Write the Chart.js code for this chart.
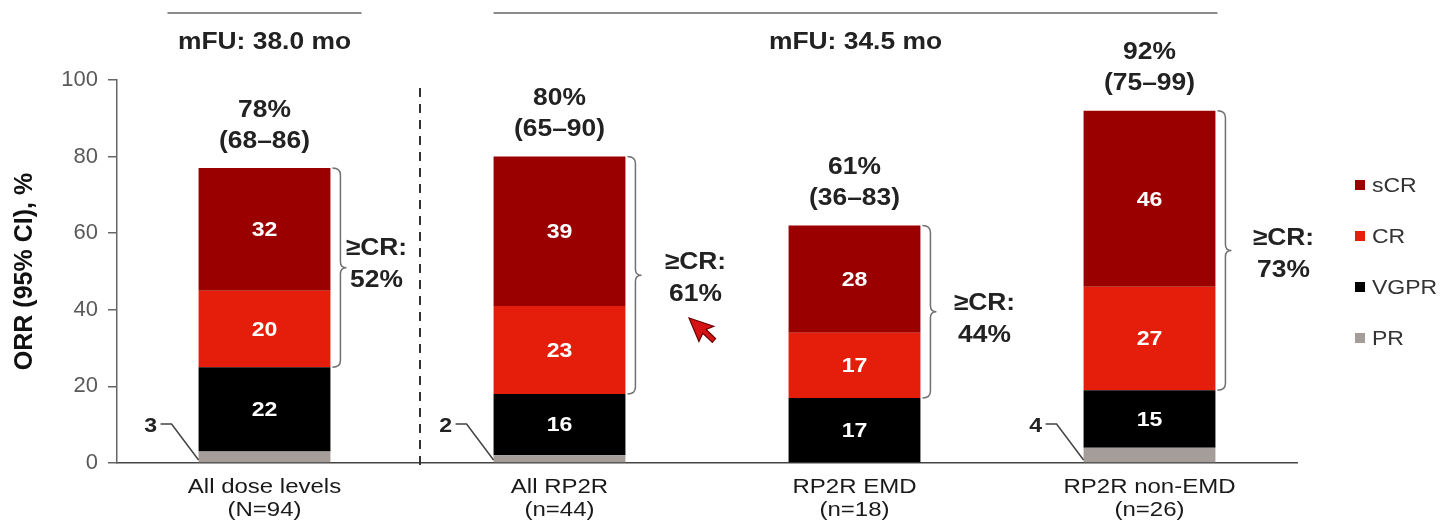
<!DOCTYPE html>
<html>
<head>
<meta charset="utf-8">
<script src="https://cdn.jsdelivr.net/npm/chart.js@4/dist/chart.umd.min.js"></script>
<style>
    html, body { margin: 0; padding: 0; background: #fff; }
    #wrap { position: relative; width: 1440px; height: 523px; }
</style>
</head>
<body>
<div id="wrap"><canvas id="orr-canvas"></canvas></div>
<script>
var categories = [
    ['All dose levels', '(N=94)'],
    ['All RP2R', '(n=44)'],
    ['RP2R EMD', '(n=18)'],
    ['RP2R non-EMD', '(n=26)']
];
var prValues = [3, 2, 0, 4];
var vgprValues = [22, 16, 17, 15];
var crValues = [20, 23, 17, 27];
var scrValues = [32, 39, 28, 46];
var orrLabels = ['78%', '80%', '61%', '92%'];
var ciLabels = ['(68\u201386)', '(65\u201390)', '(36\u201383)', '(75\u201399)'];
var geCrLabels = ['52%', '61%', '44%', '73%'];
var followUpLabels = ['mFU: 38.0 mo', 'mFU: 34.5 mo'];
var yTicks = [0, 20, 40, 60, 80, 100];

var FONT = 'Arial, "Liberation Sans", sans-serif';
var colors = {
    scr: '#9b0000',
    cr: '#e41e0a',
    vgpr: '#000000',
    pr: '#a59d99',
    text: '#222222',
    axis: '#666666'
};

// the source slide's lettering is a bit wider than Liberation Sans
function wideText(ctx, text, x, y, sx) {
    ctx.save();
    ctx.translate(x, y);
    ctx.scale(sx, 1);
    ctx.fillText(text, 0, 0);
    ctx.restore();
}

function drawBrace(ctx, x, y1, y2) {
    var mid = (y1 + y2) / 2;
    var v = x + 8;
    ctx.beginPath();
    ctx.moveTo(x, y1);
    ctx.quadraticCurveTo(v, y1, v, y1 + 7);
    ctx.lineTo(v, mid - 6);
    ctx.quadraticCurveTo(v, mid, v + 6, mid);
    ctx.quadraticCurveTo(v, mid, v, mid + 6);
    ctx.lineTo(v, y2 - 7);
    ctx.quadraticCurveTo(v, y2, x, y2);
    ctx.stroke();
}

function drawCursor(ctx, x, y) {
    ctx.save();
    ctx.translate(x, y);
    ctx.rotate(-0.4);
    ctx.scale(1.5, 1.5);
    ctx.beginPath();
    ctx.moveTo(0, 0);
    ctx.lineTo(0, 17);
    ctx.lineTo(4.5, 13);
    ctx.lineTo(8, 21);
    ctx.lineTo(11, 19.5);
    ctx.lineTo(7.5, 11.5);
    ctx.lineTo(13, 11.5);
    ctx.closePath();
    ctx.fillStyle = '#d41414';
    ctx.fill();
    ctx.strokeStyle = '#6a0000';
    ctx.lineWidth = 0.8;
    ctx.stroke();
    ctx.restore();
}

var annotationPlugin = {
    id: 'orrAnnotations',
    afterDatasetsDraw: function (chart) {
        var ctx = chart.ctx;
        var x = chart.scales.x;
        var y = chart.scales.y;
        var metaPR = chart.getDatasetMeta(0);
        var metaTop = chart.getDatasetMeta(3);
        var SX = 1.1;

        ctx.save();
        ctx.textAlign = 'center';
        ctx.textBaseline = 'middle';

        // values inside the segments
        ctx.fillStyle = '#ffffff';
        ctx.font = 'bold 21px ' + FONT;
        [1, 2, 3].forEach(function (di) {
            var meta = chart.getDatasetMeta(di);
            var vals = chart.data.datasets[di].data;
            meta.data.forEach(function (bar, i) {
                if (!vals[i]) return;
                wideText(ctx, String(vals[i]), bar.x, (bar.y + bar.base) / 2 + 1, SX);
            });
        });

        // PR leader labels
        ctx.strokeStyle = '#444';
        ctx.lineWidth = 1.5;
        ctx.fillStyle = colors.text;
        ctx.font = 'bold 21px ' + FONT;
        metaPR.data.forEach(function (bar, i) {
            if (!prValues[i]) return;
            var left = bar.x - bar.width / 2;
            var ty = y.getPixelForValue(0) - 37;
            wideText(ctx, String(prValues[i]), left - 48, ty, SX);
            ctx.beginPath();
            ctx.moveTo(left - 38, ty - 2);
            ctx.lineTo(left - 27, ty - 2);
            ctx.lineTo(left, y.getPixelForValue(0) - 3);
            ctx.stroke();
        });

        // totals on top
        ctx.fillStyle = colors.text;
        ctx.font = 'bold 24px ' + FONT;
        metaTop.data.forEach(function (bar, i) {
            wideText(ctx, orrLabels[i], bar.x, bar.y - 58, SX);
            wideText(ctx, ciLabels[i], bar.x, bar.y - 27, SX);
        });

        // braces for >=CR
        var textOffsets = [46, 70, 64, 68];
        var lineShift = [-19, -13, -8, -12];
        metaTop.data.forEach(function (bar, i) {
            var right = bar.x + bar.width / 2;
            var yTop = bar.y;
            var yBot = y.getPixelForValue(prValues[i] + vgprValues[i]);
            ctx.strokeStyle = '#707070';
            ctx.lineWidth = 1.5;
            drawBrace(ctx, right + 2, yTop, yBot);
            var mid = (yTop + yBot) / 2;
            ctx.fillStyle = colors.text;
            ctx.font = 'bold 24px ' + FONT;
            wideText(ctx, '\u2265CR:', right + textOffsets[i], mid + lineShift[i], SX);
            wideText(ctx, geCrLabels[i], right + textOffsets[i], mid + lineShift[i] + 32, SX);
        });

        // dashed separator
        var sepX = (x.getPixelForValue(0) + x.getPixelForValue(1)) / 2 + 8;
        ctx.strokeStyle = '#333';
        ctx.lineWidth = 2;
        ctx.setLineDash([9, 7]);
        ctx.beginPath();
        ctx.moveTo(sepX, y.getPixelForValue(100) + 8);
        ctx.lineTo(sepX, y.getPixelForValue(0) + 8);
        ctx.stroke();
        ctx.setLineDash([]);

        // follow-up headers
        var b0 = metaTop.data[0], b1 = metaTop.data[1], b3 = metaTop.data[3];
        var l1a = b0.x - 97, l1b = b0.x + 97;
        var l2a = b1.x - b1.width / 2, l2b = b3.x + b3.width / 2 + 2;
        ctx.strokeStyle = '#8a8a8a';
        ctx.lineWidth = 2;
        ctx.beginPath();
        ctx.moveTo(l1a, 13); ctx.lineTo(l1b, 13);
        ctx.moveTo(l2a, 13); ctx.lineTo(l2b, 13);
        ctx.stroke();
        ctx.fillStyle = colors.text;
        ctx.font = 'bold 24px ' + FONT;
        wideText(ctx, followUpLabels[0], (l1a + l1b) / 2, 42, SX);
        wideText(ctx, followUpLabels[1], (l2a + l2b) / 2, 42, SX);

        // category labels under the axis
        ctx.fillStyle = '#1a1a1a';
        ctx.font = '20px ' + FONT;
        categories.forEach(function (lines, i) {
            var cx = x.getPixelForValue(i);
            lines.forEach(function (line, j) {
                wideText(ctx, line, cx, y.getPixelForValue(0) + 24 + j * 23, 1.2);
            });
        });

        // legend
        var legend = [
            ['sCR', colors.scr],
            ['CR', colors.cr],
            ['VGPR', colors.vgpr],
            ['PR', colors.pr]
        ];
        var lx = chart.chartArea.right + 58;
        ctx.textAlign = 'left';
        ctx.font = '20px ' + FONT;
        legend.forEach(function (item, i) {
            var ly = 185 + i * 51;
            ctx.fillStyle = item[1];
            ctx.fillRect(lx, ly - 5, 10, 10);
            ctx.fillStyle = '#333';
            wideText(ctx, item[0], lx + 17, ly + 1, 1.15);
        });

        drawCursor(ctx, 689, 318);
        ctx.restore();
    }
};

var ctx = document.getElementById('orr-canvas').getContext('2d');
new Chart(ctx, {
    type: 'bar',
    data: {
        labels: categories,
        datasets: [
            { label: 'PR', data: prValues, backgroundColor: colors.pr },
            { label: 'VGPR', data: vgprValues, backgroundColor: colors.vgpr },
            { label: 'CR', data: crValues, backgroundColor: colors.cr },
            { label: 'sCR', data: scrValues, backgroundColor: colors.scr }
        ]
    },
    options: {
        responsive: true,
        maintainAspectRatio: false,
        animation: false,
        datasets: {
            bar: { barPercentage: 0.447, categoryPercentage: 1, borderWidth: 0 }
        },
        layout: { padding: { left: 0, top: 80, right: 143, bottom: 0 } },
        plugins: {
            legend: { display: false },
            tooltip: { enabled: false }
        },
        scales: {
            x: {
                stacked: true,
                grid: { display: false, drawTicks: false },
                border: { display: true, color: '#444', width: 1.5 },
                ticks: { display: false },
                afterFit: function (scale) { scale.height = 60; }
            },
            y: {
                stacked: true,
                min: 0,
                max: 100,
                afterBuildTicks: function (scale) {
                    scale.ticks = yTicks.map(function (v) { return { value: v }; });
                },
                grid: { drawOnChartArea: false, drawTicks: true, tickLength: 9, color: colors.axis, lineWidth: 1.5 },
                border: { display: true, color: colors.axis, width: 1.5 },
                ticks: {
                    padding: 10,
                    color: '#595959',
                    font: { family: FONT, size: 22 }
                },
                title: {
                    display: true,
                    text: 'ORR (95% CI), %',
                    color: '#111',
                    font: { family: FONT, size: 25, weight: 'bold' },
                    padding: { top: 10, bottom: 0 }
                },
                afterFit: function (scale) { scale.width = 117; }
            }
        }
    },
    plugins: [annotationPlugin]
});
</script>
</body>
</html>
